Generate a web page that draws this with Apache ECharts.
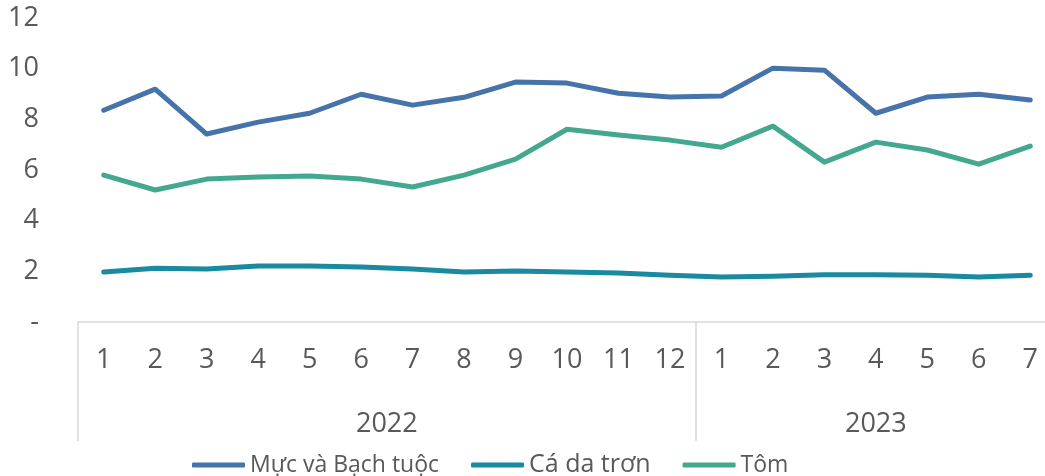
<!DOCTYPE html>
<html>
<head>
<meta charset="utf-8">
<script src="https://cdn.jsdelivr.net/npm/echarts@6/dist/echarts.min.js"></script>
<style>
  html, body { margin: 0; padding: 0; background: #fff; overflow: hidden; width: 1045px; height: 476px; }
  /* the plot area runs slightly past the visible right edge */
  #chart { width: 1056px; height: 476px; }
</style>
</head>
<body>
<div id="chart"></div>
<script>
// Monthly export values, Jan 2022 – Jul 2023
const months = ['1','2','3','4','5','6','7','8','9','10','11','12','1','2','3','4','5','6','7'];
const years = ['2022', '2023'];
const yearMonthCounts = [12, 7];

const mucBachTuoc = [8.36, 9.19, 7.42, 7.89, 8.24, 8.99, 8.56, 8.87, 9.47, 9.43, 9.03, 8.88,
                     8.92, 10.02, 9.94, 8.24, 8.88, 8.99, 8.76];
const caDaTron = [1.97, 2.12, 2.09, 2.21, 2.21, 2.17, 2.09, 1.97, 2.01, 1.97, 1.93, 1.85,
                  1.78, 1.81, 1.87, 1.87, 1.85, 1.78, 1.85];
const tom = [5.80, 5.21, 5.64, 5.72, 5.76, 5.64, 5.33, 5.80, 6.43, 7.61, 7.38, 7.18,
             6.90, 7.73, 6.31, 7.10, 6.79, 6.23, 6.94];

const seriesNames = ['Mực và Bạch tuộc', 'Cá da trơn', 'Tôm'];
const seriesColors = ['#4673AA', '#198AA0', '#44A891'];
const seriesData = [mucBachTuoc, caDaTron, tom];

// Year group boundaries and centres on a 0..N scale spanning the month bands
const boundaries = [0];
const centres = [];
yearMonthCounts.forEach(n => {
  const start = boundaries[boundaries.length - 1];
  centres.push(start + n / 2);
  boundaries.push(start + n);
});

const FONT = 'Open Sans';
const GREY = '#595959';
const LINE_GREY = '#D9D9D9';

const chart = echarts.init(document.getElementById('chart'));
chart.setOption({
  animation: false,
  textStyle: { fontFamily: FONT },
  grid: { left: 78, right: 0, top: 18, bottom: 154, containLabel: false },
  legend: {
    left: 187,
    top: 446,
    icon: 'roundRect',
    itemWidth: 53,
    itemHeight: 5,
    itemGap: 32,
    formatter: name => (name === 'Cá da trơn' ? '{big|' + name + '}' : name),
    textStyle: {
      fontFamily: FONT, fontSize: 23, color: GREY, lineHeight: 28,
      rich: { big: { fontFamily: FONT, fontSize: 25, color: GREY, lineHeight: 28 } }
    },
    data: seriesNames
  },
  xAxis: [
    {
      type: 'category',
      data: months,
      boundaryGap: true,
      axisLine: { show: true, lineStyle: { color: LINE_GREY, width: 1.5 } },
      axisTick: { show: false },
      axisLabel: { color: GREY, fontSize: 27, lineHeight: 27, margin: 25, interval: 0, fontFamily: FONT },
      splitLine: { show: false }
    },
    {
      type: 'value',
      position: 'bottom',
      min: 0,
      max: boundaries[boundaries.length - 1],
      axisLine: { show: false },
      axisTick: {
        show: true,
        customValues: boundaries,
        length: 119,
        lineStyle: { color: LINE_GREY, width: 1.5 }
      },
      axisLabel: {
        customValues: centres,
        formatter: v => years[centres.indexOf(v)] || '',
        color: GREY, fontSize: 27, lineHeight: 27, margin: 89, fontFamily: FONT
      },
      splitLine: { show: false }
    }
  ],
  yAxis: {
    type: 'value',
    min: 0,
    max: 12,
    interval: 2,
    axisLine: { show: false },
    axisTick: { show: false },
    splitLine: { show: false },
    axisLabel: {
      color: GREY, fontSize: 27, margin: 39, fontFamily: FONT,
      formatter: v => (v === 0 ? '-' : String(v))
    }
  },
  series: seriesData.map((d, i) => ({
    name: seriesNames[i],
    type: 'line',
    data: d,
    xAxisIndex: 0,
    symbol: 'none',
    smooth: false,
    itemStyle: { color: seriesColors[i] },
    lineStyle: { color: seriesColors[i], width: 5, cap: 'round', join: 'round' }
  }))
});
</script>
</body>
</html>
